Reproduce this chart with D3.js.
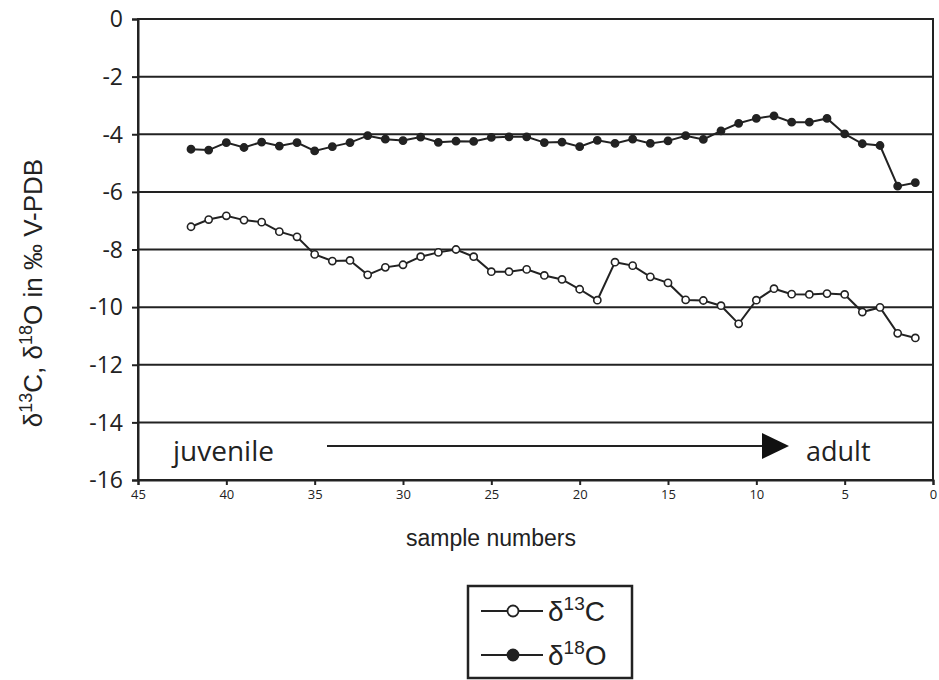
<!DOCTYPE html>
<html><head><meta charset="utf-8">
<script src="https://cdn.jsdelivr.net/npm/d3@7"></script>
<style>body{margin:0;background:#fff}svg{display:block}</style>
</head><body>
<svg id="c" width="939" height="680"></svg>
<script>
const samples = [42,41,40,39,38,37,36,35,34,33,32,31,30,29,28,27,26,25,24,23,22,21,20,19,18,17,16,15,14,13,12,11,10,9,8,7,6,5,4,3,2,1];
const d13C = [-7.21,-6.96,-6.83,-6.98,-7.05,-7.38,-7.56,-8.17,-8.40,-8.38,-8.88,-8.62,-8.53,-8.25,-8.10,-8.00,-8.25,-8.77,-8.77,-8.69,-8.90,-9.04,-9.38,-9.76,-8.44,-8.56,-8.95,-9.16,-9.75,-9.77,-9.95,-10.58,-9.76,-9.36,-9.55,-9.56,-9.53,-9.56,-10.17,-10.01,-10.91,-11.07];
const d18O = [-4.52,-4.55,-4.29,-4.46,-4.27,-4.41,-4.29,-4.58,-4.43,-4.29,-4.05,-4.17,-4.22,-4.10,-4.28,-4.24,-4.25,-4.11,-4.09,-4.09,-4.29,-4.27,-4.43,-4.21,-4.32,-4.17,-4.32,-4.23,-4.05,-4.18,-3.88,-3.62,-3.45,-3.36,-3.58,-3.58,-3.45,-3.99,-4.33,-4.39,-5.80,-5.68];
const yTicks = [0,-2,-4,-6,-8,-10,-12,-14,-16];
const xTicks = [45,40,35,30,25,20,15,10,5,0];

const svg = d3.select('#c');
const x = d3.scaleLinear().domain([45,0]).range([138,933]);
const y = d3.scaleLinear().domain([0,-16]).range([19,480]);
const ink = '#222';
const myriad = '"Open Sans", "Noto Sans", sans-serif';
const arial = '"Liberation Sans", Arial, sans-serif';

// gridlines
svg.append('g').selectAll('line').data(yTicks.filter(v => v !== 0 && v !== -16)).join('line')
  .attr('x1', x(45)).attr('x2', x(0)).attr('y1', d => y(d)).attr('y2', d => y(d))
  .attr('stroke', ink).attr('stroke-width', 2);

// frame
svg.append('rect').attr('x', x(45)).attr('y', y(0)).attr('width', x(0)-x(45)).attr('height', y(-16)-y(0))
  .attr('fill', 'none').attr('stroke', ink).attr('stroke-width', 2);

// y axis
const ya = svg.append('g').attr('transform', `translate(${x(45)},0)`)
  .call(d3.axisLeft(y).tickValues(yTicks).tickFormat(d3.format('d')).tickSize(6).tickPadding(9));
ya.select('.domain').attr('stroke', ink).attr('stroke-width', 2);
ya.selectAll('.tick line').attr('stroke', ink).attr('stroke-width', 2);
ya.selectAll('.tick text').attr('fill', ink).style('font-family', myriad).style('font-size', '23px').attr('dy', '0.34em').text(d => d === 0 ? '0' : '-' + Math.abs(d));

// x axis
const xa = svg.append('g').attr('transform', `translate(0,${y(-16)})`)
  .call(d3.axisBottom(x).tickValues(xTicks).tickSize(5).tickPadding(5));
xa.select('.domain').attr('stroke', ink).attr('stroke-width', 2);
xa.selectAll('.tick line').attr('stroke', ink).attr('stroke-width', 2);
xa.selectAll('.tick text').attr('fill', ink).style('font-family', myriad).style('font-size', '13px');

// axis titles
svg.append('text').attr('x', 491).attr('y', 546).attr('text-anchor', 'middle')
  .style('font-family', arial).style('font-size', '23px').attr('fill', ink).text('sample numbers');
const yl = svg.append('text').attr('transform', 'translate(42,293) rotate(-90)').attr('text-anchor', 'middle')
  .style('font-family', arial).style('font-size', '26px').attr('fill', ink);
yl.append('tspan').text('δ');
yl.append('tspan').attr('dy', -10).style('font-size', '18px').text('13');
yl.append('tspan').attr('dy', 10).text('C, δ');
yl.append('tspan').attr('dy', -10).style('font-size', '18px').text('18');
yl.append('tspan').attr('dy', 10).text('O in ‰ V-PDB');

// juvenile -> adult arrow
svg.append('text').attr('x', 173).attr('y', 461).style('font-family', myriad).style('font-size', '28px').attr('fill', ink).text('juvenile');
svg.append('text').attr('x', 806).attr('y', 461).style('font-family', myriad).style('font-size', '27px').attr('fill', ink).text('adult');
svg.append('line').attr('x1', 327).attr('x2', 765).attr('y1', 446).attr('y2', 446).attr('stroke', ink).attr('stroke-width', 2);
svg.append('path').attr('d', 'M762,433 L789,446 L762,459 Z').attr('fill', '#111');

// series
const line = d3.line().x((d,i) => x(samples[i])).y(d => y(d));
function series(vals, fill) {
  svg.append('path').datum(vals).attr('d', line).attr('fill', 'none').attr('stroke', ink).attr('stroke-width', 2);
  svg.append('g').selectAll('circle').data(vals).join('circle')
    .attr('cx', (d,i) => x(samples[i])).attr('cy', d => y(d)).attr('r', 3.6)
    .attr('fill', fill).attr('stroke', ink).attr('stroke-width', 1.6);
}
series(d13C, '#fff');
series(d18O, ink);

// legend
const lg = svg.append('g');
lg.append('rect').attr('x', 468).attr('y', 586).attr('width', 164).attr('height', 92)
  .attr('fill', '#fff').attr('stroke', ink).attr('stroke-width', 2.5);
const items = [{lab:'13', el:'C', fill:'#fff', y:611}, {lab:'18', el:'O', fill:ink, y:655}];
items.forEach(it => {
  lg.append('line').attr('x1', 481).attr('x2', 543).attr('y1', it.y).attr('y2', it.y).attr('stroke', ink).attr('stroke-width', 2);
  lg.append('circle').attr('cx', 513).attr('cy', it.y).attr('r', 5.5).attr('fill', it.fill).attr('stroke', ink).attr('stroke-width', 1.8);
  const t = lg.append('text').attr('x', 548).attr('y', it.y + 10).style('font-family', arial).style('font-size', '28px').attr('fill', ink);
  t.append('tspan').text('δ');
  t.append('tspan').attr('dy', -11).style('font-size', '19px').text(it.lab);
  t.append('tspan').attr('dy', 11).text(it.el);
});
</script>
</body></html>
